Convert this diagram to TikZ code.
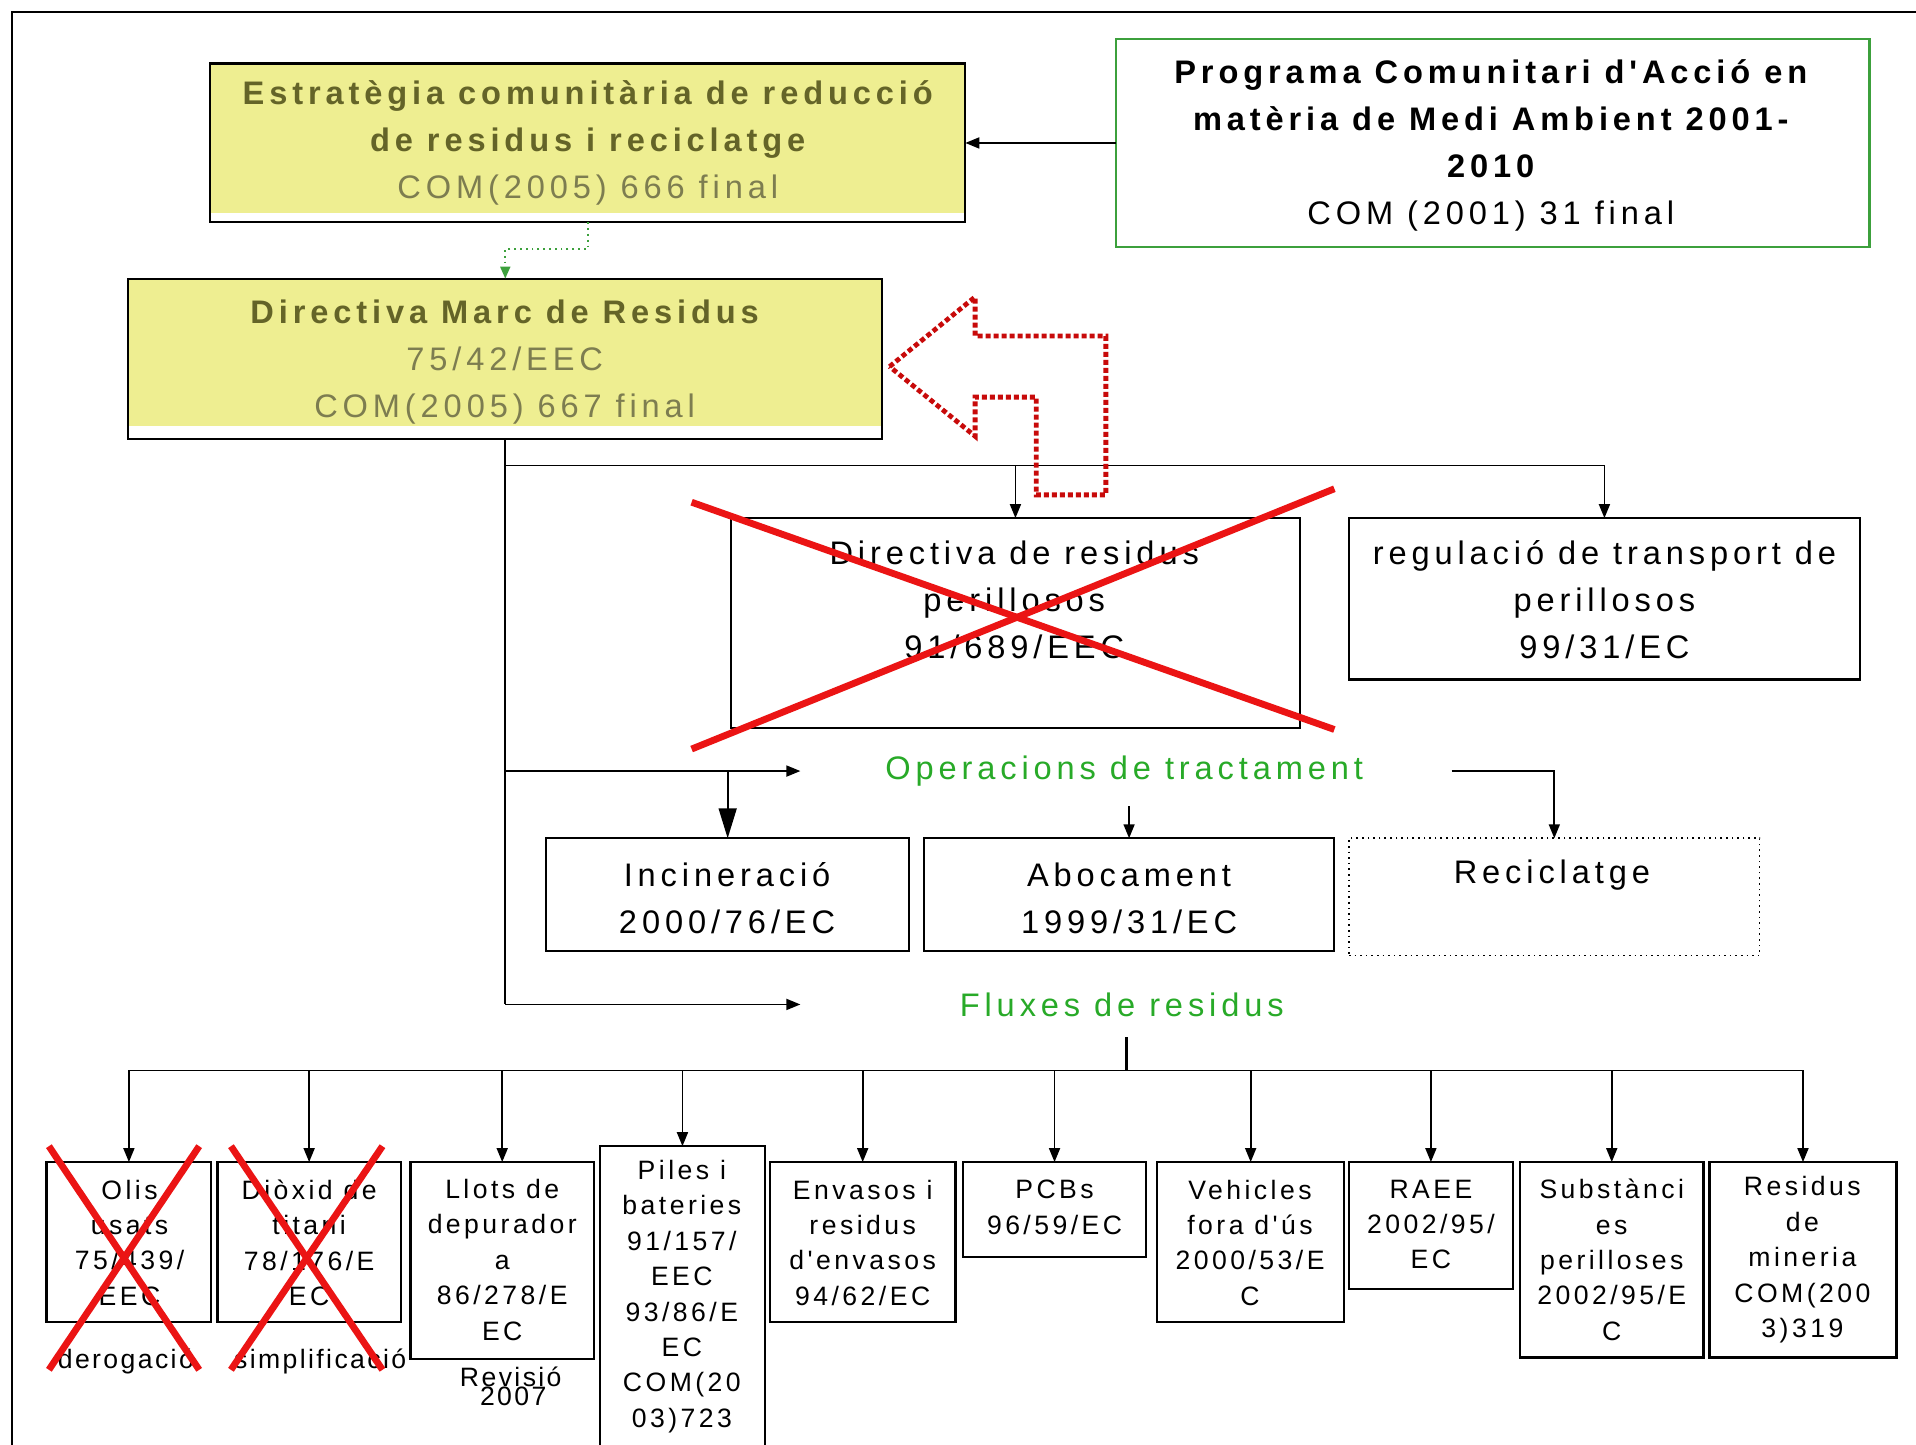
\documentclass[tikz,border=0pt]{standalone}
\usepackage{fontspec}
\setmainfont{Liberation Sans}
\newfontfamily\fa{Liberation Sans}[LetterSpace=15]
\newfontfamily\fb{Liberation Sans}[LetterSpace=13]
\newfontfamily\fc{Liberation Sans}[LetterSpace=9]
\usetikzlibrary{arrows.meta}
\definecolor{yel}{RGB}{238,238,145}
\definecolor{olb}{RGB}{100,100,40}
\definecolor{olr}{RGB}{125,125,80}
\definecolor{grtxt}{RGB}{40,170,40}
\definecolor{progreen}{RGB}{60,160,60}
\definecolor{redx}{RGB}{235,20,20}
\definecolor{reddot}{RGB}{200,10,10}
\newcommand{\mkbox}[6]{\node[#6, minimum width={(#4-#2)*0.6111pt}, minimum height={(#5-#3)*0.6111pt}] (#1) at ({(#2+#4)/2},{(#3+#5)/2}) {};}
\begin{document}
\begin{tikzpicture}[x=0.6111pt,y=-0.6111pt,
  box/.style={rectangle, draw=black, line width=1.1pt, inner sep=0pt, outer sep=0pt},
  gbox/.style={box, draw=progreen},
  dbox/.style={box, line width=0.8pt, dotted},
  ln/.style={line width=0.9pt},
  arr/.style={ln, -{Triangle[length=7pt,width=5.5pt]}},
  bigarr/.style={ln, -{Triangle[length=15pt,width=9pt]}},
  txa/.style={font=\fa\fontsize{16.3}{23.5}\selectfont, align=center, inner sep=0pt},
  txb/.style={font=\fb\fontsize{13.3}{17.7}\selectfont, align=center, inner sep=0pt},
  txc/.style={font=\fc\fontsize{13.3}{12}\selectfont, align=center, inner sep=0pt},
  crossx/.style={draw=redx, line width=3.4pt},
  reddash/.style={draw=reddot, line width=2.4pt, dash pattern=on 2.5pt off 1.5pt},
  gdot/.style={draw=progreen, line width=0.9pt, dotted, -{Triangle[length=6pt,width=5pt]}}
]
\useasboundingbox (0,0) rectangle (1568,1182);
\fill[white] (0,0) rectangle (1568,1182);
% frame
\draw[line width=1.1pt] (10,1190) -- (10,10) -- (1580,10);

% yellow fills
\fill[yel] (172,52) rectangle (790,174);
\fill[yel] (105,228) rectangle (722,349);

% top boxes
\mkbox{estr}{172}{52}{790}{182}{box}
\mkbox{prog}{913}{32}{1530}{202}{gbox}
\mkbox{dmr}{105}{228}{722}{359}{box}
\mkbox{drp}{598}{424}{1064}{596}{box}
\mkbox{reg}{1104}{424}{1522}{556}{box}
\mkbox{inc}{447}{686}{744}{778}{box}
\mkbox{abo}{756}{686}{1092}{778}{box}
\mkbox{rec}{1104}{686}{1440}{782}{dbox}

% texts of top boxes
\node[txa, text=olb] (estr-t) at (481,117) {{\bfseries Estratègia comunitària de reducció}\\{\bfseries de residus i reciclatge}\\\textcolor{olr}{COM(2005) 666 final}};
\node[txa] (prog-t) at (1220,119) {{\bfseries Programa Comunitari d'Acció en}\\{\bfseries matèria de Medi Ambient 2001-}\\{\bfseries 2010}\\COM (2001) 31 final};
\node[txa, text=olb] (dmr-t) at (413,296) {{\bfseries Directiva Marc de Residus}\\\textcolor{olr}{75/42/EEC}\\\textcolor{olr}{COM(2005) 667 final}};
\node[txa] (drp-t) at (830,491) {Directiva de residus\\perillosos\\91/689/EEC};
\node[txa] (reg-t) at (1313,491) {regulació de transport de\\perillosos\\99/31/EC};
\node[txa] (inc-t) at (595,735) {Incineració\\2000/76/EC};
\node[txa] (abo-t) at (924,735) {Abocament\\1999/31/EC};
\node[txa] (rec-t) at (1270,716) {Reciclatge};
\node[txa, text=grtxt] (ops) at (920,631) {Operacions de tractament};
\node[txa, text=grtxt] (flx) at (918,822) {Fluxes de residus};

% connectors top
\draw[arr] (prog.west) -- (estr.east);
\coordinate (g1) at (481,204);
\draw[gdot] (estr.south -| g1) -- (g1) -| (dmr.north);

\coordinate (t1) at (413.5,381);
\coordinate (t2) at (413.5,631);
\coordinate (t3) at (413.5,822);
\coordinate (o1) at (655,631);
\coordinate (o2) at (1188,631);
\coordinate (o3) at (924,660);
\coordinate (f1) at (655,822);
\draw[ln] (dmr.south) -- (t3);
\draw[arr] (t1) -| (reg.north);
\draw[arr] (t1 -| drp.north) -- (drp.north);
\draw[arr] (t2) -- (o1);
\draw[bigarr] (t2 -| inc.north) -- (inc.north);
\draw[arr] (o3) -- (abo.north);
\draw[arr] (o2) -| (rec.north);
\draw[arr] (t3) -- (f1);

% red crossing of hazardous waste directive
\draw[crossx] (566,411) -- (1092,597);
\draw[crossx] (566,613) -- (1092,400);

% red dotted arrow
\draw[reddash] (728,300) -- (798,243) -- (798,275) -- (905,275) -- (905,405) -- (848,405) -- (848,325) -- (798,325) -- (798,357) -- cycle;

% bottom boxes
\mkbox{olis}{38}{951}{173}{1082}{box}
\mkbox{diox}{178}{951}{328}{1082}{box}
\mkbox{llots}{336}{951}{486}{1112}{box}
\mkbox{piles}{491}{938}{626}{1184}{box}
\mkbox{env}{630}{951}{782}{1082}{box}
\mkbox{pcb}{788}{951}{938}{1029}{box}
\mkbox{veh}{947}{951}{1100}{1082}{box}
\mkbox{raee}{1104}{951}{1238}{1055}{box}
\mkbox{subs}{1244}{951}{1394}{1111}{box}
\mkbox{mine}{1399}{951}{1552}{1111}{box}

\node[txb] (olis-t) at (106,1017) {Olis\\usats\\75/439/\\EEC};
\node[txb] (diox-t) at (253,1017) {Diòxid de\\titani\\78/176/E\\EC};
\node[txb] (llots-t) at (411,1031) {Llots de\\depurador\\a\\86/278/E\\EC};
\node[txb] (piles-t) at (558,1061) {Piles i\\bateries\\91/157/\\EEC\\93/86/E\\EC\\COM(20\\03)723};
\node[txb] (env-t) at (706,1017) {Envasos i\\residus\\d'envasos\\94/62/EC};
\node[txb] (pcb-t) at (863,988) {PCBs\\96/59/EC};
\node[txb] (veh-t) at (1023,1017) {Vehicles\\fora d'ús\\2000/53/E\\C};
\node[txb] (raee-t) at (1171,1002) {RAEE\\2002/95/\\EC};
\node[txb] (subs-t) at (1319,1031) {Substànci\\es\\perilloses\\2002/95/E\\C};
\node[txb] (mine-t) at (1475,1031) {Residus\\de\\mineria\\COM(200\\3)319};

\node[txc] (derog) at (103,1114) {derogació};
\node[txc] (simpl) at (262,1114) {simplificació};
\node[txc] (rev1) at (418,1127) {Revisió};
\node[txc] (rev2) at (420,1143) {2007};

% bottom connectors
\coordinate (b0) at (922,849);
\coordinate (b1) at (922,876);
\draw[line width=1.4pt] (b0) -- (b1);
\draw[ln] (olis.north |- b1) -- (mine.north |- b1);
\foreach \n in {olis,diox,llots,piles,env,pcb,veh,raee,subs,mine}
  \draw[arr] (\n.north |- b1) -- (\n.north);

% red crosses on bottom boxes
\draw[crossx] (40,938) -- (163,1121);
\draw[crossx] (40,1121) -- (163,938);
\draw[crossx] (189,938) -- (313,1121);
\draw[crossx] (189,1121) -- (313,938);
\end{tikzpicture}
\end{document}
